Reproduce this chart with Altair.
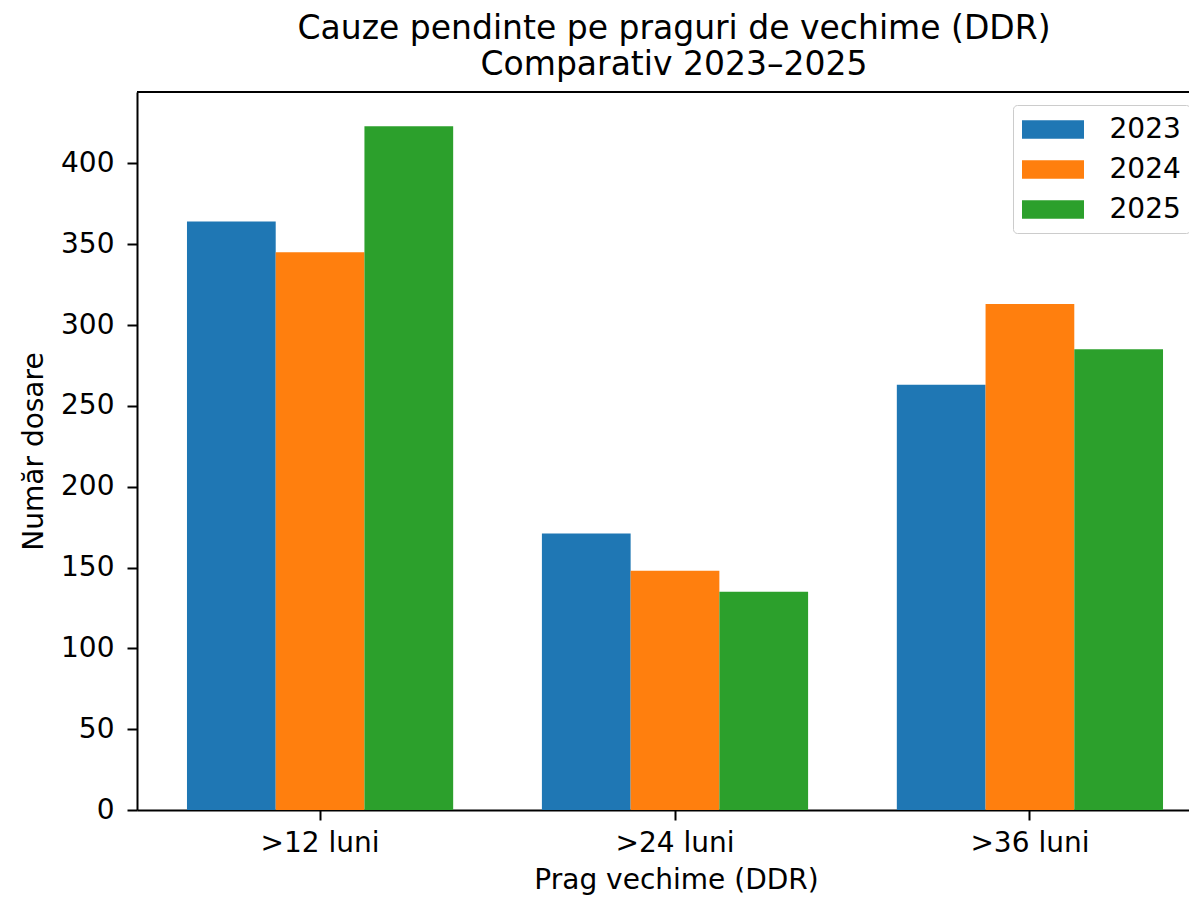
import altair as alt
import pandas as pd

categories = [">12 luni", ">24 luni", ">36 luni"]
years = ["2023", "2024", "2025"]
values_2023 = [364, 171, 263]
values_2024 = [345, 148, 313]
values_2025 = [423, 135, 285]
colors = ["#1f77b4", "#ff7f0e", "#2ca02c"]
y_ticks = [0, 50, 100, 150, 200, 250, 300, 350, 400]

rows = []
for yr, vals in zip(years, [values_2023, values_2024, values_2025]):
    for cat, v in zip(categories, vals):
        rows.append({"prag": cat, "an": yr, "valoare": v})
df = pd.DataFrame(rows)

W, H = 1052, 718
FONT = "DejaVu Sans"
FS = 28

bars = alt.Chart(df).mark_bar(stroke=None).encode(
    x=alt.X("prag:N", sort=categories,
            scale=alt.Scale(paddingInner=0.25, paddingOuter=0.107, align=0.658),
            axis=alt.Axis(title="Prag vechime (DDR)", labelAngle=0, tickSize=10,
                          labelPadding=9, titleX=539, titleY=78,
                          titleBaseline="alphabetic", titleAlign="center")),
    xOffset=alt.XOffset("an:N", sort=years, scale=alt.Scale(paddingInner=0, paddingOuter=0)),
    y=alt.Y("valoare:Q", scale=alt.Scale(domain=[0, 444.15], nice=False, zero=True),
            axis=alt.Axis(title="Număr dosare", values=y_ticks, tickSize=10,
                          labelPadding=13, grid=False, titleX=-95, titleY=359,
                          titleBaseline="alphabetic", titleAlign="center", titleAngle=270)),
    color=alt.Color("an:N", sort=years, scale=alt.Scale(domain=years, range=colors),
                    legend=alt.Legend(title=None, orient="none", legendX=876, legendY=13,
                                      symbolType="M-2,-0.6L2,-0.6L2,0.6L-2,0.6Z",
                                      symbolSize=961, symbolStrokeWidth=0,
                                      symbolOffset=15.5,
                                      labelFontSize=FS, labelFont=FONT, labelColor="black",
                                      labelOffset=41, rowPadding=10, padding=9,
                                      strokeColor="#cccccc", fillColor="white",
                                      cornerRadius=4)),
)

top_spine = alt.Chart(df).mark_rule(color="black", strokeWidth=2).encode(
    x=alt.value(0), x2=alt.value(W), y=alt.value(0)
)

chart = alt.layer(bars, top_spine).properties(
    width=W, height=H,
    title=alt.TitleParams(["Cauze pendinte pe praguri de vechime (DDR)", "Comparativ 2023–2025"],
                          font=FONT, fontSize=33, fontWeight="normal", color="black",
                          anchor="middle", frame="group", offset=9, dx=11, lineHeight=36),
    autosize=alt.AutoSizeParams(type="none"),
    padding={"left": 129, "top": 84, "right": 0, "bottom": 86},
).configure_view(stroke=None).configure_axis(
    labelFont=FONT, titleFont=FONT, labelFontSize=FS, titleFontSize=FS,
    titleFontWeight="normal", labelColor="black", titleColor="black",
    domainColor="black", tickColor="black", domainWidth=2, tickWidth=2,
)

chart.save("out.html", embed_options={"renderer": "svg", "actions": False})
